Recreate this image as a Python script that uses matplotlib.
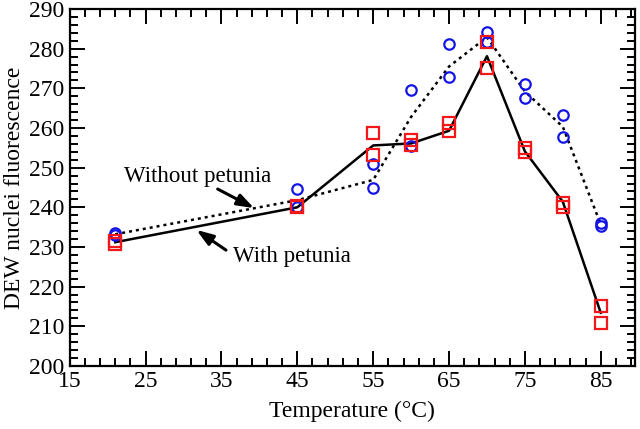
import matplotlib.pyplot as plt
from matplotlib.ticker import MultipleLocator

plt.rcParams['font.family'] = ['Liberation Serif', 'DejaVu Serif']

temp_pts = [21, 21, 45, 45, 55, 55, 60, 60, 65, 65, 70, 70, 75, 75, 80, 80, 85, 85]
without_pts = [233.5, 233.0, 244.5, 240.0, 251.0, 244.8, 269.6, 255.5, 281.2, 272.8,
               284.1, 281.7, 271.1, 267.5, 263.4, 257.7, 236.0, 235.3]
with_pts = [231.5, 230.8, 240.0, 240.3, 258.8, 253.2, 257.0, 255.7, 261.2, 259.3,
            281.6, 275.0, 254.9, 254.0, 241.0, 240.2, 215.1, 210.8]

# mean curves
temp_mean = [21, 45, 55, 60, 65, 70, 75, 80, 85]
without_mean = [233.2, 241.8, 246.9, 262.8, 275.5, 282.9, 269.2, 260.3, 235.7]
with_mean = [231.2, 240.0, 255.6, 256.1, 259.3, 278.1, 254.1, 241.4, 213.4]

fig = plt.figure(figsize=(6.4, 4.29), dpi=100)
ax = fig.add_axes([0.109, 0.147, 0.883, 0.832])

ax.plot(temp_mean, without_mean, color='black', lw=1.8, linestyle=(0, (1.2, 1.6)), zorder=2)
ax.plot(temp_mean, with_mean, color='black', lw=1.8, zorder=2)
ax.plot(temp_pts, without_pts, linestyle='none', marker='o', ms=7.5, mfc='none',
        mec='#1414e6', mew=1.6, zorder=3)
ax.plot(temp_pts, with_pts, linestyle='none', marker='s', ms=8.5, mfc='none',
        mec='#f01818', mew=1.6, zorder=4)

arrow = dict(arrowstyle='-|>,head_length=1.0,head_width=0.35', color='black', lw=2.2,
             shrinkA=0, shrinkB=0)
ax.annotate('', xy=(39.3, 239.8), xytext=(34.5, 244.6), arrowprops=arrow)
ax.annotate('', xy=(31.7, 234.3), xytext=(35.6, 229.2), arrowprops=arrow)
ax.text(22.2, 247.7, 'Without petunia', fontsize=16.5, va='center', ha='left')
ax.text(36.5, 227.7, 'With petunia', fontsize=16.5, va='center', ha='left')

ax.set_xlim(15, 89.5)
ax.set_ylim(200, 290)
ax.xaxis.set_major_locator(MultipleLocator(10, offset=5))
ax.xaxis.set_minor_locator(MultipleLocator(2, offset=1))
ax.yaxis.set_major_locator(MultipleLocator(10))
ax.yaxis.set_minor_locator(MultipleLocator(2))
ax.tick_params(which='both', direction='in', top=True, right=True, width=1.4,
               labelsize=17, pad=4)
ax.tick_params(which='major', length=11)
ax.tick_params(which='minor', length=5.5)
for s in ax.spines.values():
    s.set_linewidth(1.6)

ax.set_xlabel('Temperature (°C)', fontsize=17, labelpad=6)
ax.set_ylabel('DEW nuclei fluorescence', fontsize=17, labelpad=3)

fig.savefig('out.png', dpi=100)
